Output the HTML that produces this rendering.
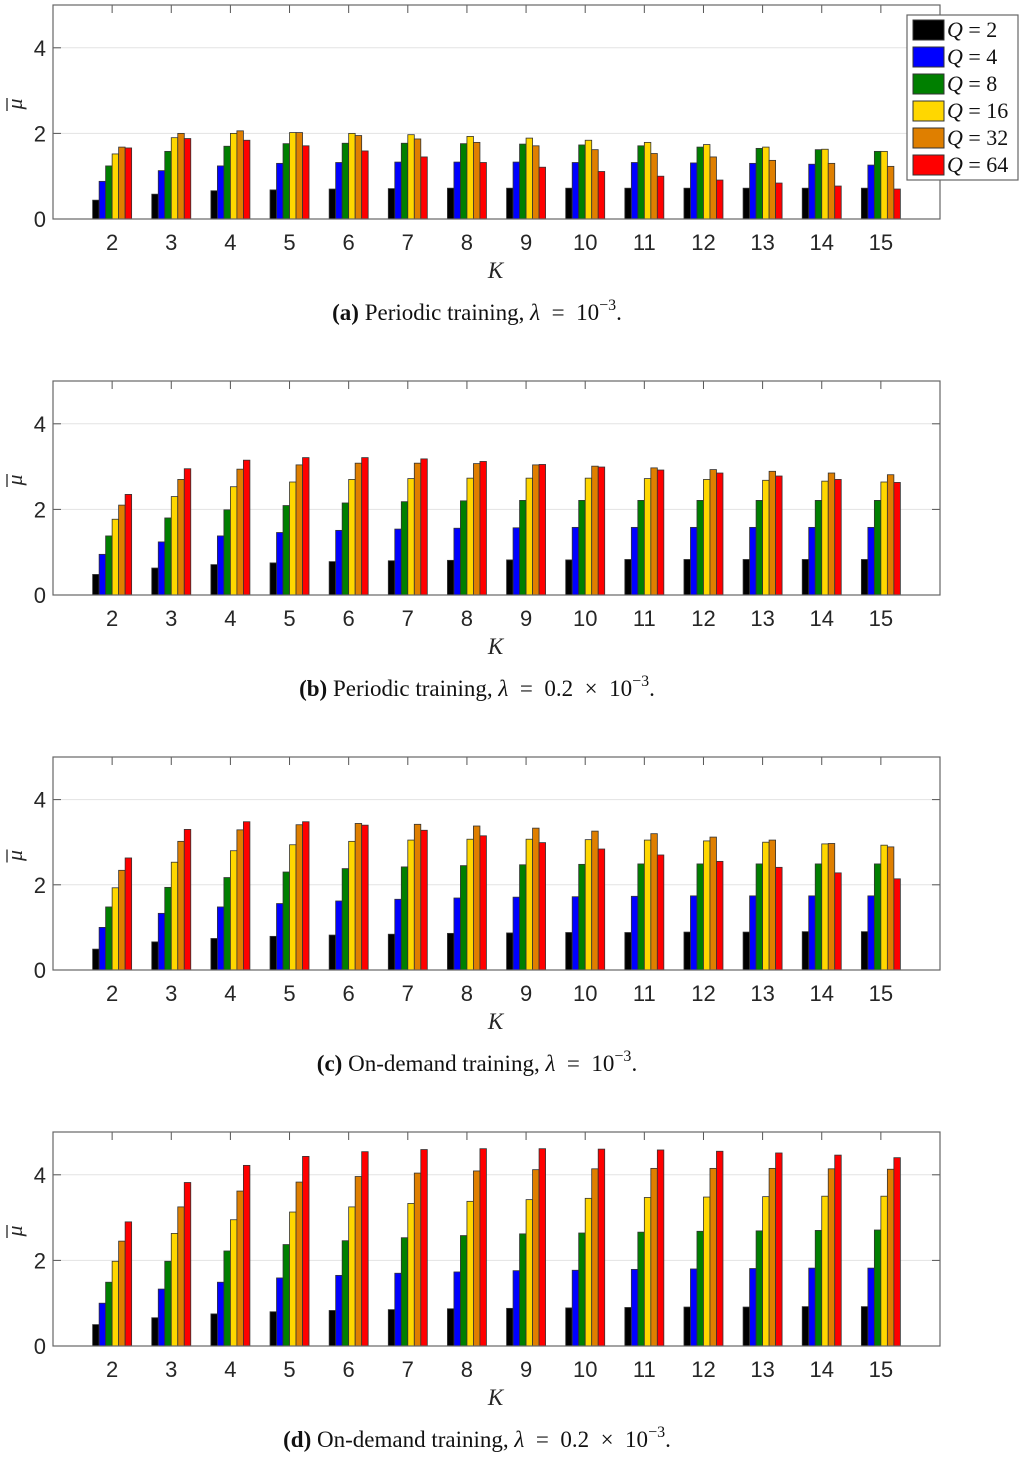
<!DOCTYPE html>
<html><head><meta charset="utf-8">
<style>
html,body{margin:0;padding:0;background:#fff;}
svg{display:block;}
</style></head>
<body>
<svg id="fig" width="1024" height="1458" viewBox="0 0 1024 1458" xmlns="http://www.w3.org/2000/svg"></svg>
<script>
const categories = [2,3,4,5,6,7,8,9,10,11,12,13,14,15];
const seriesNames = ["Q = 2","Q = 4","Q = 8","Q = 16","Q = 32","Q = 64"];
const legendNums = ["2","4","8","16","32","64"];
const yTicks = [0,2,4];
// Panel (a)
const a_q2  = [.44,.58,.66,.68,.70,.71,.72,.72,.72,.72,.72,.72,.72,.72];
const a_q4  = [.88,1.13,1.24,1.30,1.32,1.33,1.33,1.33,1.32,1.32,1.31,1.30,1.28,1.26];
const a_q8  = [1.24,1.58,1.70,1.76,1.77,1.77,1.76,1.75,1.73,1.71,1.68,1.65,1.62,1.58];
const a_q16 = [1.52,1.90,2.00,2.02,2.00,1.97,1.93,1.89,1.84,1.79,1.74,1.68,1.63,1.58];
const a_q32 = [1.68,2.00,2.06,2.02,1.95,1.87,1.79,1.71,1.62,1.53,1.45,1.37,1.30,1.23];
const a_q64 = [1.66,1.88,1.84,1.71,1.59,1.45,1.32,1.21,1.11,1.00,0.91,0.84,0.77,0.70];
// Panel (b)
const b_q2  = [.48,.63,.71,.75,.78,.80,.81,.82,.82,.83,.83,.83,.83,.83];
const b_q4  = [.95,1.24,1.38,1.46,1.51,1.54,1.56,1.57,1.58,1.58,1.58,1.58,1.58,1.58];
const b_q8  = [1.38,1.80,1.99,2.09,2.15,2.18,2.20,2.21,2.21,2.21,2.21,2.21,2.21,2.21];
const b_q16 = [1.77,2.30,2.53,2.64,2.70,2.72,2.73,2.73,2.73,2.72,2.70,2.68,2.66,2.64];
const b_q32 = [2.10,2.70,2.94,3.04,3.08,3.08,3.07,3.04,3.01,2.97,2.93,2.89,2.85,2.81];
const b_q64 = [2.35,2.95,3.15,3.21,3.21,3.18,3.12,3.05,2.99,2.92,2.85,2.78,2.70,2.63];
// Panel (c)
const c_q2  = [.49,.66,.74,.79,.82,.84,.86,.87,.88,.88,.89,.89,.90,.90];
const c_q4  = [1.00,1.33,1.48,1.56,1.62,1.66,1.69,1.71,1.72,1.73,1.74,1.74,1.74,1.74];
const c_q8  = [1.48,1.94,2.17,2.30,2.38,2.42,2.45,2.47,2.48,2.49,2.49,2.49,2.49,2.49];
const c_q16 = [1.93,2.53,2.80,2.94,3.02,3.05,3.07,3.07,3.06,3.05,3.03,3.00,2.96,2.93];
const c_q32 = [2.34,3.02,3.29,3.41,3.44,3.42,3.38,3.33,3.26,3.20,3.12,3.05,2.97,2.89];
const c_q64 = [2.63,3.30,3.48,3.48,3.40,3.28,3.15,2.99,2.84,2.70,2.55,2.41,2.28,2.14];
// Panel (d)
const d_q2  = [.50,.66,.75,.80,.83,.85,.87,.88,.89,.90,.91,.91,.92,.92];
const d_q4  = [1.00,1.33,1.49,1.59,1.65,1.70,1.73,1.76,1.77,1.79,1.80,1.81,1.82,1.82];
const d_q8  = [1.49,1.98,2.22,2.37,2.46,2.53,2.58,2.62,2.64,2.66,2.68,2.69,2.70,2.71];
const d_q16 = [1.98,2.63,2.95,3.13,3.25,3.33,3.38,3.42,3.45,3.47,3.48,3.49,3.50,3.50];
const d_q32 = [2.45,3.25,3.62,3.83,3.96,4.04,4.09,4.12,4.14,4.15,4.15,4.15,4.14,4.13];
const d_q64 = [2.90,3.82,4.22,4.43,4.54,4.59,4.61,4.61,4.60,4.58,4.55,4.51,4.46,4.40];

const colors = ["#000000","#0000ff","#007f00","#ffd700","#df7f00","#ff0000"];
const NS = "http://www.w3.org/2000/svg";
const svg = document.getElementById("fig");
function mk(tag, attrs, parent){
  const e = document.createElementNS(NS, tag);
  for (const k in attrs) e.setAttribute(k, attrs[k]);
  (parent||svg).appendChild(e);
  return e;
}
const EQ = '\u2002=\u2002';
const SUP = '<tspan dy="-10" font-size="16">−3</tspan><tspan dy="10">.</tspan>';
const panels = [
  {id:"a", top:5, bottom:219, data:[a_q2,a_q4,a_q8,a_q16,a_q32,a_q64], cap:'<tspan font-weight="bold">(a)</tspan> Periodic training, <tspan font-style="italic">λ</tspan>'+EQ+'10'+SUP},
  {id:"b", top:381, bottom:595, data:[b_q2,b_q4,b_q8,b_q16,b_q32,b_q64], cap:'<tspan font-weight="bold">(b)</tspan> Periodic training, <tspan font-style="italic">λ</tspan>'+EQ+'0.2\u2002×\u200210'+SUP},
  {id:"c", top:757, bottom:970, data:[c_q2,c_q4,c_q8,c_q16,c_q32,c_q64], cap:'<tspan font-weight="bold">(c)</tspan> On-demand training, <tspan font-style="italic">λ</tspan>'+EQ+'10'+SUP},
  {id:"d", top:1132, bottom:1346, data:[d_q2,d_q4,d_q8,d_q16,d_q32,d_q64], cap:'<tspan font-weight="bold">(d)</tspan> On-demand training, <tspan font-style="italic">λ</tspan>'+EQ+'0.2\u2002×\u200210'+SUP}
];
const L = 53, R = 940, XMIN = 1, XMAX = 16, YMAX = 5;
const barW = 6.5;
panels.forEach(p => {
  const g = mk("g", {});
  
  
  const xs = v => L + (v - XMIN) / (XMAX - XMIN) * (R - L);
  const ys = v => p.bottom - v / YMAX * (p.bottom - p.top);
  yTicks.forEach(t => {
    if (t > 0) {
      const gl = mk("line", {x1:L, x2:R, y1:ys(t), y2:ys(t), stroke:"#e3e3e3", "stroke-width":1}, g);
      
      
    }
    mk("line", {x1:L, x2:L+8, y1:ys(t), y2:ys(t), stroke:"#555", "stroke-width":1}, g);
    mk("line", {x1:R, x2:R-8, y1:ys(t), y2:ys(t), stroke:"#555", "stroke-width":1}, g);
    const tl = mk("text", {x:L-7, y:ys(t)+8, "text-anchor":"end", "font-family":"Liberation Sans, sans-serif", "font-size":22, fill:"#262626"}, g);
    tl.textContent = t;
    
    
  });
  categories.forEach((c, i) => {
    const cx = xs(c);
    p.data.forEach((ser, s) => {
      const x0 = cx - 3 * barW + s * barW;
      const r = mk("rect", {x:x0, y:ys(ser[i]), width:barW, height:ys(0) - ys(ser[i]), fill:colors[s], stroke:"#333", "stroke-width":0.8}, g);
      
      
    });
    mk("line", {x1:cx, x2:cx, y1:p.top, y2:p.top+8, stroke:"#555", "stroke-width":1}, g);
    const xl = mk("text", {x:cx, y:p.bottom+31, "text-anchor":"middle", "font-family":"Liberation Sans, sans-serif", "font-size":22, fill:"#262626"}, g);
    xl.textContent = c;
    
    
  });
  const box = mk("rect", {x:L, y:p.top, width:R-L, height:p.bottom-p.top, fill:"none", stroke:"#666", "stroke-width":1.2}, g);
  
  
  const cyl = p.top + (p.bottom-p.top)/2 - 8;
  const yl = mk("text", {x:0, y:0, transform:"translate(22," + cyl + ") rotate(-90)", "text-anchor":"middle", "font-family":"Liberation Serif, serif", "font-style":"italic", "font-size":22, fill:"#262626"}, g);
  yl.textContent = "μ";
  
  
  mk("line", {x1:7, x2:7, y1:cyl-6, y2:cyl+7, stroke:"#262626", "stroke-width":1.3}, g);
  const xt = mk("text", {x:(L+R)/2 - 1, y:p.bottom+59, "text-anchor":"middle", "font-family":"Liberation Serif, serif", "font-style":"italic", "font-size":23, fill:"#262626"}, g);
  xt.textContent = "K";
  
  
  const cap = mk("text", {x:477, y:p.bottom+101, "text-anchor":"middle", "font-family":"Liberation Serif, serif", "font-size":23, fill:"#111"}, g);
  cap.innerHTML = p.cap;
  
  
});
const lg = mk("g", {});


mk("rect", {x:907, y:15, width:111, height:165, fill:"#fff", stroke:"#666", "stroke-width":1.2}, lg);
seriesNames.forEach((n, s) => {
  const yy = 20 + s * 27;
  const sw = mk("rect", {x:913, y:yy, width:31, height:20, fill:colors[s], stroke:"#333", "stroke-width":1}, lg);
  
  
  const t = mk("text", {x:947, y:yy+17, "font-family":"Liberation Serif, serif", "font-size":22, fill:"#111"}, lg);
  t.innerHTML = '<tspan font-style="italic">Q</tspan>\u2005=\u2005' + legendNums[s];
  
  
});
</script>
</body></html>
